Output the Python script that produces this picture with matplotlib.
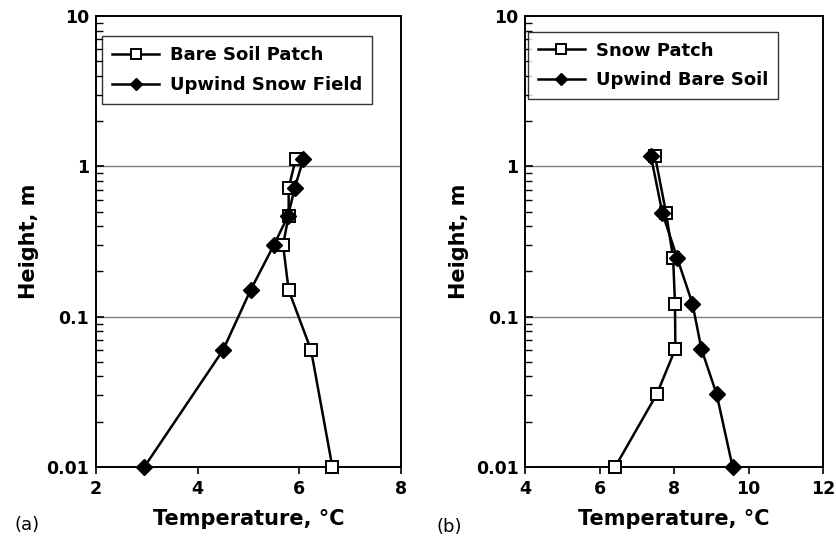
import numpy as np
import matplotlib
matplotlib.use("Agg")
import matplotlib.pyplot as plt
from matplotlib.ticker import FixedLocator, FixedFormatter, LogLocator, NullFormatter

## Data
# (a) bare soil patch downwind of a snow field
heights_a = [1.12, 0.72, 0.47, 0.30, 0.15, 0.06, 0.01]
temp_bare_patch = [5.93, 5.79, 5.79, 5.68, 5.79, 6.23, 6.65]
temp_upwind_snow = [6.08, 5.91, 5.78, 5.50, 5.04, 4.50, 2.95]

# (b) snow patch downwind of bare soil
heights_b = [1.18, 0.49, 0.245, 0.122, 0.061, 0.0305, 0.01]
temp_snow_patch = [7.48, 7.78, 7.97, 8.02, 8.03, 7.53, 6.41]
temp_upwind_bare = [7.37, 7.68, 8.08, 8.49, 8.73, 9.14, 9.57]

xticks_a = [2, 4, 6, 8]
xticks_b = [4, 6, 8, 10, 12]
yticks = [0.01, 0.1, 1, 10]
ytick_labels = ["0.01", "0.1", "1", "10"]

plt.rcParams['font.family'] = ['DejaVu Sans']
plt.rcParams['font.weight'] = 'bold'

fig = plt.figure(figsize=(8.37, 5.42), dpi=100)
ax_a = fig.add_axes([96/837, 75/542, 305/837, 451/542])
ax_b = fig.add_axes([525.5/837, 75/542, 297.5/837, 451/542])


def style_panel(ax, xticks, series, heights, legend_anchor):
    (t_sq, name_sq), (t_dm, name_dm) = series
    ax.plot(t_sq, heights, color='black', lw=1.8, marker='s', ms=9,
            mfc='white', mec='black', mew=1.4, label=name_sq, zorder=3,
            clip_on=False)
    ax.plot(t_dm, heights, color='black', lw=1.8, marker='D', ms=8,
            mfc='black', mec='black', label=name_dm, zorder=3, clip_on=False)
    ax.set_yscale('log')
    ax.set_ylim(0.01, 10)
    ax.set_xlim(xticks[0], xticks[-1])
    # gray lines at the inner decades only
    for h in [0.1, 1]:
        ax.axhline(h, color='#7f7f7f', lw=1.0, zorder=1)
    ax.yaxis.set_major_locator(FixedLocator(yticks))
    ax.yaxis.set_major_formatter(FixedFormatter(ytick_labels))
    ax.yaxis.set_minor_locator(LogLocator(base=10, subs=np.arange(2, 10)))
    ax.yaxis.set_minor_formatter(NullFormatter())
    ax.set_xticks(xticks)
    ax.tick_params(axis='y', which='major', direction='in', length=6, width=1.2,
                   labelsize=12.5, pad=5)
    ax.tick_params(axis='y', which='minor', direction='in', length=5, width=1.0)
    ax.tick_params(axis='x', which='major', direction='out', length=5, width=1.2,
                   labelsize=12.5, pad=4)
    for lbl in ax.get_xticklabels() + ax.get_yticklabels():
        lbl.set_fontweight('bold')
    for sp in ax.spines.values():
        sp.set_linewidth(1.4)
        sp.set_color('black')
        sp.set_zorder(2)
    ax.set_xlabel("Temperature, °C", fontsize=15, fontweight='bold', labelpad=8)
    ax.set_ylabel("Height, m", fontsize=15, fontweight='bold', labelpad=5)
    leg = ax.legend(loc='upper left', bbox_to_anchor=legend_anchor, fontsize=13,
                    frameon=True, fancybox=False, edgecolor='black',
                    handlelength=2.6, handletextpad=0.6, labelspacing=0.65,
                    borderpad=0.55, borderaxespad=0, markerscale=0.75)
    leg.get_frame().set_linewidth(1.0)
    for t in leg.get_texts():
        t.set_fontweight('bold')


style_panel(ax_a, xticks_a,
            [(temp_bare_patch, "Bare Soil Patch"), (temp_upwind_snow, "Upwind Snow Field")],
            heights_a, (0.02, 0.955))
style_panel(ax_b, xticks_b,
            [(temp_snow_patch, "Snow Patch"), (temp_upwind_bare, "Upwind Bare Soil")],
            heights_b, (0.008, 0.965))

fig.text(15/837, 1 - 525/542, "(a)", fontsize=13, fontweight='normal',
         ha='left', va='center')
fig.text(437/837, 1 - 527/542, "(b)", fontsize=13, fontweight='normal',
         ha='left', va='center')

fig.savefig("out.png", dpi=100)
